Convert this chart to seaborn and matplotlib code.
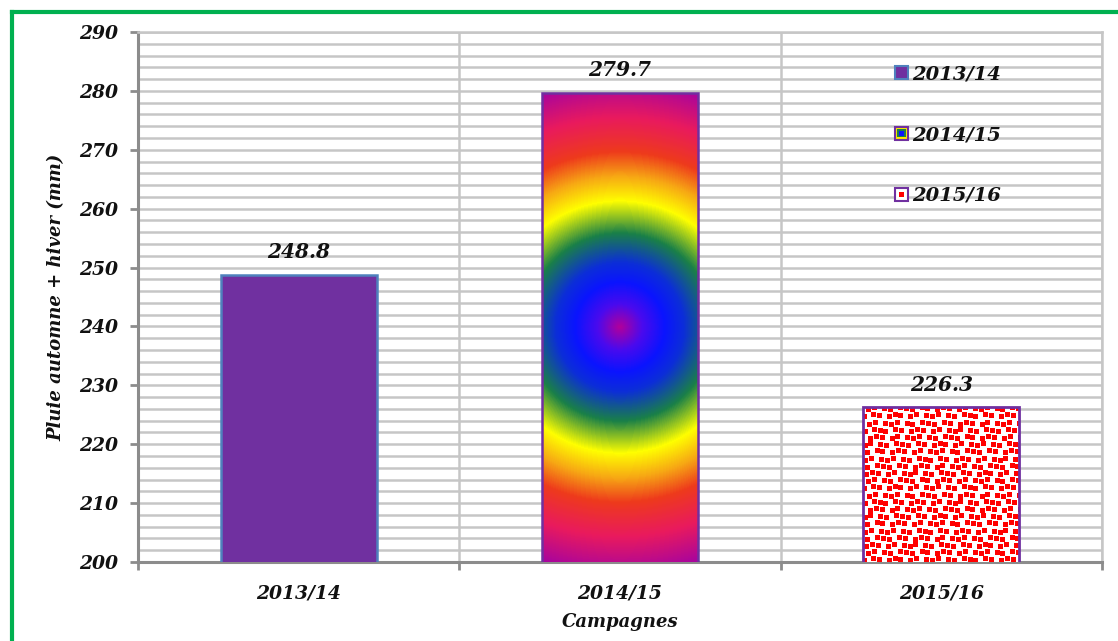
import numpy as np
import pandas as pd
import matplotlib
matplotlib.use("Agg")
import matplotlib.pyplot as plt
import seaborn as sns
from matplotlib.colors import LinearSegmentedColormap
from matplotlib.patches import Rectangle, Patch
from matplotlib.lines import Line2D
from matplotlib.legend_handler import HandlerBase
from matplotlib.ticker import MultipleLocator, FixedLocator

# Rainfall (autumn + winter) per cropping season
campagnes = ["2013/14", "2014/15", "2015/16"]
pluie = [248.8, 279.7, 226.3]
y_limits = (200, 290)
y_ticks = list(range(200, 291, 10))

W, H, DPI = 1118, 641, 100

sns.set_theme(style="white")
plt.rcParams["font.family"] = ["DejaVu Serif"]
plt.rcParams["font.weight"] = "bold"
plt.rcParams["font.style"] = "italic"
plt.rcParams["axes.labelweight"] = "bold"

fig = plt.figure(figsize=(W / DPI, H / DPI), dpi=DPI)
fig.patch.set_facecolor("white")
ax = fig.add_axes([138 / W, 1 - 562 / H, (1102 - 138) / W, (562 - 32) / H])

df = pd.DataFrame({"Campagne": campagnes, "Pluie": pluie})
sns.barplot(data=df, x="Campagne", y="Pluie", ax=ax, width=0.485,
            color="#7030A0", saturation=1, zorder=3)

ax.set_xlim(-0.5, len(campagnes) - 0.5)
ax.set_ylim(*y_limits)

grid_c = "#C6C6C6"
axis_c = "#8C8C8C"

# grid: horizontal every 2 mm, vertical at category boundaries
ax.yaxis.set_major_locator(FixedLocator(y_ticks))
ax.yaxis.set_minor_locator(MultipleLocator(2))
ax.xaxis.set_minor_locator(FixedLocator(np.arange(-0.5, len(campagnes), 1.0)))
ax.grid(which="minor", axis="both", color=grid_c, lw=1.8, zorder=0)
ax.grid(which="major", axis="y", color=grid_c, lw=1.8, zorder=0)
ax.grid(which="major", axis="x", visible=False)
ax.set_axisbelow(True)

for side in ("top", "right"):
    ax.spines[side].set_color(grid_c)
    ax.spines[side].set_linewidth(1.8)
for side in ("left", "bottom"):
    ax.spines[side].set_color(axis_c)
    ax.spines[side].set_linewidth(2.2)

ax.tick_params(axis="y", which="major", direction="out", length=6, width=2,
               color=axis_c, left=True, pad=8, labelsize=13.5, labelcolor="#111111")
ax.tick_params(axis="y", which="minor", left=False)
ax.tick_params(axis="x", which="major", bottom=False, pad=10, labelsize=13.5,
               labelcolor="#111111")
ax.tick_params(axis="x", which="minor", direction="out", length=6, width=2,
               color=axis_c, bottom=True)

ax.set_xlabel("Campagnes", fontsize=13, labelpad=8, color="#111111")
ax.set_ylabel("Pluie automne + hiver (mm)", fontsize=13, labelpad=10,
              color="#111111")

bars = ax.patches[:len(campagnes)]

# bar 1: plain purple, blue outline
bars[0].set_facecolor("#7030A0")
bars[0].set_edgecolor("#4F81BD")
bars[0].set_linewidth(1.8)

fig.canvas.draw()


def bar_pixels(p, top):
    x0 = p.get_x()
    x1 = x0 + p.get_width()
    (px0, py0), (px1, py1) = ax.transData.transform([(x0, y_limits[0]), (x1, top)])
    return x0, x1, int(round(px1 - px0)), int(round(py1 - py0))


# bar 2: radial rainbow gradient
rainbow = LinearSegmentedColormap.from_list("rainbow_radial", [
    (0.00, "#B0009C"), (0.09, "#4A0AEE"), (0.18, "#0A14FF"), (0.26, "#0C2ED8"),
    (0.38, "#1A8048"), (0.51, "#FFFF00"), (0.61, "#F7A814"), (0.71, "#EE3A1C"),
    (0.85, "#E91A5E"), (1.00, "#A8049E")])
p = bars[1]
x0, x1, pw, ph = bar_pixels(p, pluie[1])
yy, xx = np.mgrid[0:ph, 0:pw]
r = np.hypot(xx - (pw - 1) / 2, yy - (ph - 1) / 2)
r = r / r.max()
im = ax.imshow(rainbow(r), extent=[x0, x1, y_limits[0], pluie[1]], aspect="auto",
               origin="lower", zorder=3.5, interpolation="bilinear")
im.set_clip_path(p)
p.set_facecolor("none")
p.set_edgecolor("#7030A0")
p.set_linewidth(1.8)
p.set_zorder(4)

# bar 3: red dotted texture on white
p = bars[2]
x0, x1, pw, ph = bar_pixels(p, pluie[2])
tex = np.ones((ph, pw, 3))
pitch_x, pitch_y, s = 7.5, 7.2, 5
nrow = int(ph / pitch_y) + 2
ncol = int(pw / pitch_x) + 2
for i in range(nrow):
    for j in range(ncol):
        jx = ((i * 7 + j * 3) % 5) - 2
        jy = ((i * 3 + j * 5) % 3) - 1
        cx = int(j * pitch_x + (i % 2) * pitch_x / 2 + jx * 0.8)
        cy = int(i * pitch_y + jy)
        tex[max(cy, 0):max(cy + s, 0), max(cx, 0):max(cx + s, 0)] = (1.0, 0.0, 0.0)
im2 = ax.imshow(tex, extent=[x0, x1, y_limits[0], pluie[2]], aspect="auto",
                origin="lower", zorder=3.5, interpolation="nearest")
im2.set_clip_path(p)
p.set_facecolor("none")
p.set_edgecolor("#7030A0")
p.set_linewidth(2)
p.set_zorder(4)

ax.set_xlim(-0.5, len(campagnes) - 0.5)
ax.set_ylim(*y_limits)

# value labels
for i, v in enumerate(pluie):
    ax.annotate(f"{v:.1f}", (i, v), xytext=(0, 16), textcoords="offset points",
                ha="center", va="center", fontsize=14.5, color="#111111",
                zorder=6)


# legend with layered square keys
class SquareKey(HandlerBase):
    def __init__(self, layers):
        super().__init__()
        self.layers = layers

    def create_artists(self, legend, orig_handle, xdescent, ydescent, width,
                       height, fontsize, trans):
        side = 9.5
        cx = width / 2 - xdescent
        cy = height / 2 - ydescent
        arts = []
        for frac, face, edge, lw in self.layers:
            d = side * frac
            arts.append(Rectangle((cx - d / 2, cy - d / 2), d, d, facecolor=face,
                                  edgecolor=edge if edge else "none", lw=lw,
                                  transform=trans))
        return arts


handles = [Patch(label=c) for c in campagnes]
keys = [
    SquareKey([(1.0, "#7030A0", "#4F81BD", 1.5)]),
    SquareKey([(1.0, "#FFE800", "#7030A0", 1.5), (0.62, "#1A8048", None, 0),
               (0.36, "#0A14FF", None, 0)]),
    SquareKey([(1.0, "white", "#7030A0", 1.5), (0.4, "#FF0000", None, 0)]),
]
leg = ax.legend(handles=handles, labels=campagnes,
                handler_map={h: k for h, k in zip(handles, keys)},
                loc="upper left", bbox_to_anchor=(0.785, 0.937), frameon=False,
                fontsize=14, handlelength=0.7, handleheight=0.7,
                handletextpad=0.2, labelspacing=2.2, borderpad=0,
                borderaxespad=0)
for t in leg.get_texts():
    t.set_color("#111111")
leg.set_zorder(7)

# green frame around the figure
g = "#00B050"
fig.add_artist(Line2D([11.5 / W, 11.5 / W], [0, 1 - 11.5 / H], color=g, lw=3,
                      transform=fig.transFigure, solid_capstyle="projecting"))
fig.add_artist(Line2D([11.5 / W, 1], [1 - 11.5 / H, 1 - 11.5 / H], color=g, lw=3,
                      transform=fig.transFigure, solid_capstyle="projecting"))

fig.savefig("out.png", dpi=DPI, facecolor="white")
